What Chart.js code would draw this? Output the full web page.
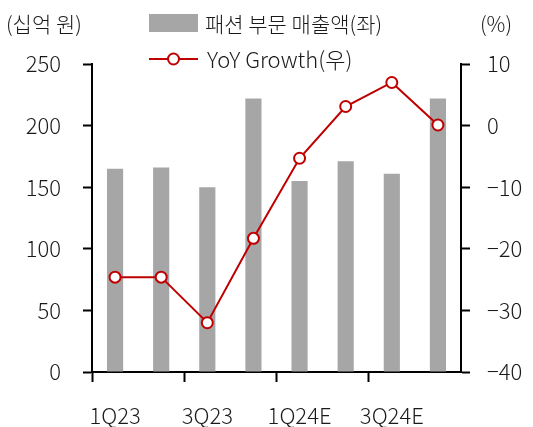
<!DOCTYPE html>
<html>
<head>
<meta charset="utf-8">
<script src="https://cdn.jsdelivr.net/npm/chart.js@4"></script>
<style>
  html, body { margin: 0; padding: 0; background: #fff; }
  #wrap { width: 533px; height: 427px; position: relative; }
</style>
</head>
<body>
<div id="wrap"><canvas id="fashionChart"></canvas></div>
<script>
// quarters
const quarters = ['1Q23', '2Q23', '3Q23', '4Q23', '1Q24E', '2Q24E', '3Q24E', '4Q24E'];
// 패션 부문 매출액 (십억 원)
const fashionSales = [165, 166, 150, 222, 155, 171, 161, 222];
// YoY Growth (%)
const yoyGrowth = [-24.6, -24.6, -32.0, -18.3, -5.3, 3.1, 7.0, 0.1];

const leftTicks = [0, 50, 100, 150, 200, 250];
const rightTicks = [-40, -30, -20, -10, 0, 10];

const FONT = '"Noto Sans CJK KR", "Noto Sans", sans-serif';
const TEXT = '#1a1a1a';
const BAR = '#a6a6a6';
const RED = '#c00000';

// legend + unit labels drawn on top of the canvas
const legendPlugin = {
    id: 'customLegend',
    afterDraw(chart) {
        const ctx = chart.ctx;
        const ds = chart.data.datasets;
        ctx.save();
        ctx.font = '300 21px ' + FONT;
        ctx.fillStyle = TEXT;
        ctx.textBaseline = 'middle';

        ctx.textAlign = 'left';
        ctx.fillText('(십억 원)', 6, 24);
        ctx.textAlign = 'right';
        ctx.fillText('(%)', 512, 24);

        // bar item
        ctx.fillStyle = ds[1].backgroundColor;
        ctx.fillRect(149, 14, 49, 18);
        ctx.fillStyle = TEXT;
        ctx.textAlign = 'left';
        ctx.fillText(ds[1].label, 205, 24);

        // line item
        ctx.strokeStyle = ds[0].borderColor;
        ctx.lineWidth = 2;
        ctx.beginPath();
        ctx.moveTo(149, 59);
        ctx.lineTo(198, 59);
        ctx.stroke();
        ctx.beginPath();
        ctx.arc(173.5, 59, 5.5, 0, Math.PI * 2);
        ctx.fillStyle = '#fff';
        ctx.fill();
        ctx.stroke();
        ctx.fillStyle = TEXT;
        ctx.font = '300 22px ' + FONT;
        ctx.fillText(ds[0].label, 207, 60);
        ctx.restore();
    }
};

const data = {
    labels: quarters,
    datasets: [
        {
            type: 'line',
            label: 'YoY Growth(우)',
            data: yoyGrowth,
            yAxisID: 'y1',
            borderColor: RED,
            borderWidth: 2,
            pointRadius: 5.5,
            pointBorderWidth: 2,
            pointBackgroundColor: '#fff',
            pointBorderColor: RED,
            tension: 0,
            order: 0
        },
        {
            type: 'bar',
            label: '패션 부문 매출액(좌)',
            data: fashionSales,
            yAxisID: 'y',
            backgroundColor: BAR,
            categoryPercentage: 1,
            barPercentage: 0.35,
            order: 1
        }
    ]
};

const tickFont = { family: FONT, size: 22, weight: 300 };

const config = {
    data: data,
    options: {
        responsive: false,
        animation: false,
        layout: { padding: { top: 64, bottom: 0, left: 0, right: 0 } },
        plugins: {
            legend: { display: false },
            tooltip: { enabled: false }
        },
        scales: {
            x: {
                offset: true,
                grid: {
                    offset: true,
                    drawOnChartArea: false,
                    tickLength: 10,
                    tickWidth: 2,
                    tickColor: (c) => (c.index % 2 === 0 ? '#000' : 'rgba(0,0,0,0)')
                },
                border: { color: '#000', width: 2 },
                ticks: {
                    autoSkip: false,
                    maxRotation: 0,
                    padding: 20,
                    color: TEXT,
                    font: tickFont,
                    callback: function (v, i) { return i % 2 === 0 ? quarters[i] : ''; }
                },
                afterFit: (scale) => { scale.height = 55; }
            },
            y: {
                position: 'left',
                min: 0,
                max: 250,
                afterBuildTicks: (scale) => { scale.ticks = leftTicks.map(v => ({ value: v })); },
                grid: { drawOnChartArea: false, tickLength: 9, tickWidth: 2, tickColor: '#000' },
                border: { color: '#000', width: 2 },
                ticks: {
                    padding: 22,
                    color: TEXT,
                    font: tickFont
                },
                afterFit: (scale) => { scale.width = 92; }
            },
            y1: {
                position: 'right',
                min: -40,
                max: 10,
                afterBuildTicks: (scale) => { scale.ticks = rightTicks.map(v => ({ value: v })); },
                grid: { drawOnChartArea: false, tickLength: 9, tickWidth: 2, tickColor: '#000' },
                border: { color: '#000', width: 2 },
                ticks: {
                    padding: 17,
                    color: TEXT,
                    font: tickFont,
                    callback: (v) => (v < 0 ? '\u2212' + Math.abs(v) : String(v))
                },
                afterFit: (scale) => { scale.width = 72; }
            }
        }
    },
    plugins: [legendPlugin]
};

const canvas = document.getElementById('fashionChart');
canvas.width = 533;
canvas.height = 427;
new Chart(canvas.getContext('2d'), config);
</script>
</body>
</html>
